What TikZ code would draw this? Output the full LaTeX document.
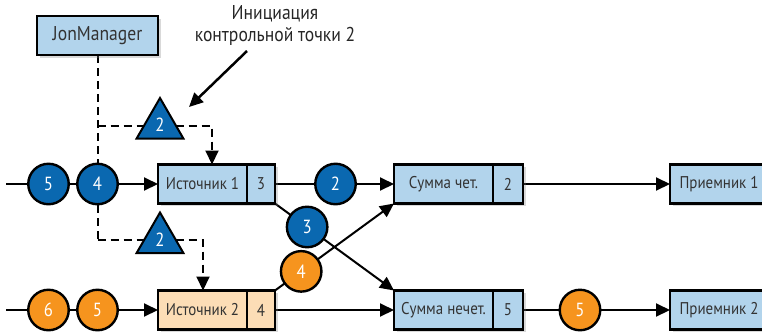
\documentclass[tikz,border=0pt]{standalone}
\usepackage{fontspec}
\setmainfont{PT Sans}[FakeStretch=0.88]
\usetikzlibrary{arrows.meta,shapes.geometric,shadows,calc,backgrounds}
\definecolor{boxblue}{RGB}{178,212,236}
\definecolor{boxorange}{RGB}{252,221,182}
\definecolor{dblue}{RGB}{10,104,176}
\definecolor{dorange}{RGB}{246,148,30}
\begin{document}
\begin{tikzpicture}[x=1pt,y=-1pt,
  font=\fontsize{17}{20}\selectfont,
  boxshape/.style={draw=black,line width=2.3pt,minimum height=39pt,inner sep=0pt,outer sep=0pt,
     text=black!80,drop shadow={opacity=0.3,shadow xshift=2.5pt,shadow yshift=-2.5pt}},
  bluebox/.style={boxshape,fill=boxblue},
  orangebox/.style={boxshape,fill=boxorange},
  bc/.style={circle,draw=black,line width=2.4pt,fill=dblue,text=white,minimum size=40.5pt,inner sep=0pt,
     font=\fontsize{19}{20}\selectfont},
  oc/.style={bc,fill=dorange},
  tri/.style={regular polygon,regular polygon sides=3,draw=black,line width=2pt,fill=dblue,
     text=white,minimum size=54pt,inner sep=0pt,font=\fontsize{19}{20}\selectfont},
  conn/.style={line width=2pt,draw=black},
  tip/.style={-{Triangle[length=14pt,width=13pt]}},
  dsh/.style={line width=2pt,dash pattern=on 8pt off 5pt}]
\useasboundingbox (0,0) rectangle (762,335);
\clip (0,0) rectangle (762,335);
% boxes
\node[bluebox,minimum width=121pt,font=\fontsize{20}{22}\selectfont] (jm) at (97.5,35.5) {JonManager};
\node[bluebox,minimum width=89pt] (s1m) at (202.5,184) {Источник 1};
\node[bluebox,minimum width=28pt] (s1n) at (261,184) {3};
\node[orangebox,minimum width=89pt] (s2m) at (202.5,310) {Источник 2};
\node[orangebox,minimum width=28pt] (s2n) at (261,310) {4};
\node[bluebox,minimum width=99pt] (sem) at (443.5,184) {Сумма чет.};
\node[bluebox,minimum width=30pt] (sen) at (508,184) {2};
\node[bluebox,minimum width=99pt] (som) at (443.5,310) {Сумма нечет.};
\node[bluebox,minimum width=30pt] (son) at (508,310) {5};
\node[bluebox,minimum width=98pt] (k1) at (719,184) {Приемник 1};
\node[bluebox,minimum width=98pt] (k2) at (719,310) {Приемник 2};
% circles
\node[bc] (a5) at (48.5,184) {5};
\node[bc] (a4) at (97.5,184) {4};
\node[bc] (a2) at (335.5,184) {2};
\node[oc] (b6) at (48.5,310) {6};
\node[oc] (b5) at (97.5,310) {5};
\node[oc] (b5r) at (580,310) {5};
\node[bc] (a3) at ($(s1n.south east)!0.27!(som.north west)$) {3};
\node[oc] (b4) at ($(s2n.north east)!0.22!(sem.south west)$) {4};
% barriers
\node[tri] (t1) at (160,125) {2};
\node[tri] (t2) at (160,239.5) {2};
% annotation
\node[align=center,font=\fontsize{20}{22}\selectfont,text=black!85] (ann) at (275,25) {Инициация\\контрольной точки 2};
\coordinate (annA) at (247,51);
\coordinate (annB) at (189,107);
\draw[line width=2.5pt,tip] (annA) -- (annB);
\coordinate (in1) at (6,184);
\coordinate (in2) at (6,310);
\coordinate (d1) at (97.5,126);
\coordinate (d2) at (97.5,240);
\begin{scope}[on background layer]
\draw[conn,tip] (in1) -- (s1m.west);
\draw[conn,tip] (in2) -- (s2m.west);
\draw[conn,tip] (s1n.east) -- (sem.west);
\draw[conn,tip] (s2n.east) -- (som.west);
\draw[conn,tip] (sen.east) -- (k1.west);
\draw[conn,tip] (son.east) -- (k2.west);
\draw[conn,tip] (s1n.south east) -- (som.north west);
\draw[conn,tip] (s2n.north east) -- (sem.south west);
\draw[dsh] (jm.south) -- (a4.north);
\draw[dsh] (a4.south) -- (d2);
\draw[dsh,tip] (d1) -| ($(s1m.north)+(9.5,0)$);
\draw[dsh,tip] (d2) -| ($(s2m.north)+(0.5,0)$);
\end{scope}
\end{tikzpicture}
\end{document}
